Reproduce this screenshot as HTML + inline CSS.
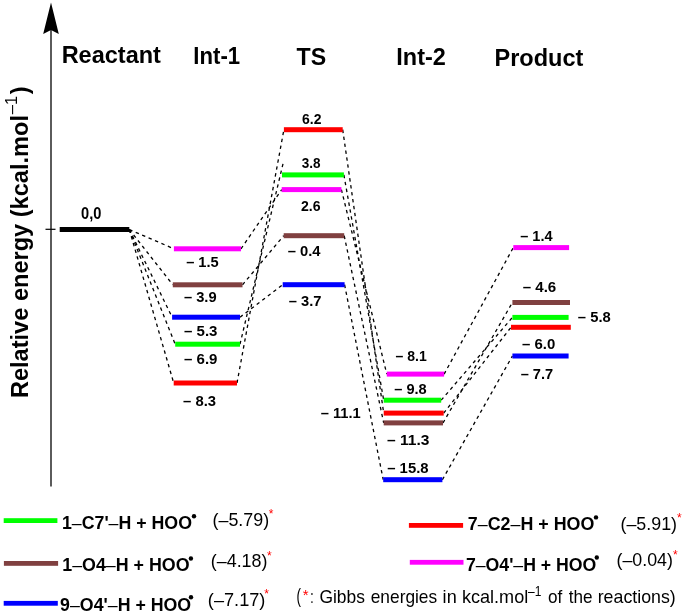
<!DOCTYPE html>
<html><head><meta charset="utf-8"><style>
html,body{margin:0;padding:0;background:#fff;width:685px;height:615px;overflow:hidden}
svg{display:block;will-change:transform}
text{font-family:"Liberation Sans",sans-serif}
</style></head><body>
<svg width="685" height="615" viewBox="0 0 685 615">
<rect width="685" height="615" fill="#fff"/>
<line x1="51" y1="28" x2="51" y2="486.5" stroke="#4a4a4a" stroke-width="1.8"/>
<path d="M51 2.6 L58.8 34 L51 30 L43.2 34 Z" fill="#000"/>
<line x1="45.5" y1="229.3" x2="55.5" y2="229.3" stroke="#000" stroke-width="1.2"/>
<line x1="129.3" y1="229.5" x2="173.9" y2="248.8" stroke="#000" stroke-width="1.3" stroke-dasharray="3.4 3.6"/>
<line x1="241" y1="248.8" x2="281.7" y2="189.6" stroke="#000" stroke-width="1.3" stroke-dasharray="3.4 3.6"/>
<line x1="341.4" y1="189.6" x2="386.8" y2="374.1" stroke="#000" stroke-width="1.3" stroke-dasharray="3.4 3.6"/>
<line x1="444.1" y1="374.1" x2="513.3" y2="247.6" stroke="#000" stroke-width="1.3" stroke-dasharray="3.4 3.6"/>
<line x1="129.3" y1="229.5" x2="172.8" y2="284.8" stroke="#000" stroke-width="1.3" stroke-dasharray="3.4 3.6"/>
<line x1="242.5" y1="284.8" x2="283.7" y2="235.7" stroke="#000" stroke-width="1.3" stroke-dasharray="3.4 3.6"/>
<line x1="344.2" y1="235.7" x2="383.7" y2="422.9" stroke="#000" stroke-width="1.3" stroke-dasharray="3.4 3.6"/>
<line x1="443" y1="422.9" x2="512.4" y2="302.5" stroke="#000" stroke-width="1.3" stroke-dasharray="3.4 3.6"/>
<line x1="129.3" y1="229.5" x2="172.1" y2="317.2" stroke="#000" stroke-width="1.3" stroke-dasharray="3.4 3.6"/>
<line x1="240" y1="317.2" x2="282.7" y2="284.7" stroke="#000" stroke-width="1.3" stroke-dasharray="3.4 3.6"/>
<line x1="344.6" y1="284.7" x2="383.2" y2="479.7" stroke="#000" stroke-width="1.3" stroke-dasharray="3.4 3.6"/>
<line x1="442.4" y1="479.7" x2="512.4" y2="356" stroke="#000" stroke-width="1.3" stroke-dasharray="3.4 3.6"/>
<line x1="129.3" y1="229.5" x2="175.2" y2="344.2" stroke="#000" stroke-width="1.3" stroke-dasharray="3.4 3.6"/>
<line x1="240" y1="344.2" x2="283.0" y2="163.8" stroke="#000" stroke-width="1.3" stroke-dasharray="3.4 3.6"/>
<line x1="343.9" y1="174.9" x2="383.7" y2="400.2" stroke="#000" stroke-width="1.3" stroke-dasharray="3.4 3.6"/>
<line x1="441.2" y1="400.2" x2="512.4" y2="317.4" stroke="#000" stroke-width="1.3" stroke-dasharray="3.4 3.6"/>
<line x1="129.3" y1="229.5" x2="173.7" y2="383" stroke="#000" stroke-width="1.3" stroke-dasharray="3.4 3.6"/>
<line x1="237" y1="383" x2="283.9" y2="129.7" stroke="#000" stroke-width="1.3" stroke-dasharray="3.4 3.6"/>
<line x1="342.7" y1="129.7" x2="383.7" y2="413.1" stroke="#000" stroke-width="1.3" stroke-dasharray="3.4 3.6"/>
<line x1="443.7" y1="413.1" x2="511" y2="327.3" stroke="#000" stroke-width="1.3" stroke-dasharray="3.4 3.6"/>
<rect x="59.7" y="227.0" width="69.60000000000001" height="5" fill="#000"/>
<rect x="173.9" y="246.3" width="67.1" height="5" fill="#ff00ff"/>
<rect x="172.8" y="282.3" width="69.69999999999999" height="5" fill="#804040"/>
<rect x="172.1" y="314.7" width="67.9" height="5" fill="#0000ff"/>
<rect x="175.2" y="341.7" width="64.80000000000001" height="5" fill="#00ff00"/>
<rect x="173.7" y="380.5" width="63.30000000000001" height="5" fill="#ff0000"/>
<rect x="283.9" y="127.19999999999999" width="58.80000000000001" height="5" fill="#ff0000"/>
<rect x="282" y="172.4" width="61.89999999999998" height="5" fill="#00ff00"/>
<rect x="281.7" y="187.1" width="59.69999999999999" height="5" fill="#ff00ff"/>
<rect x="283.7" y="233.2" width="60.5" height="5" fill="#804040"/>
<rect x="282.7" y="282.2" width="61.900000000000034" height="5" fill="#0000ff"/>
<rect x="386.8" y="371.6" width="57.30000000000001" height="5" fill="#ff00ff"/>
<rect x="383.7" y="397.7" width="57.5" height="5" fill="#00ff00"/>
<rect x="383.7" y="410.6" width="60.0" height="5" fill="#ff0000"/>
<rect x="383.7" y="420.4" width="59.30000000000001" height="5" fill="#804040"/>
<rect x="383.2" y="477.2" width="59.19999999999999" height="5" fill="#0000ff"/>
<rect x="513.3" y="245.1" width="55.80000000000007" height="5" fill="#ff00ff"/>
<rect x="512.4" y="300.0" width="57.60000000000002" height="5" fill="#804040"/>
<rect x="512.4" y="314.9" width="56.200000000000045" height="5" fill="#00ff00"/>
<rect x="511" y="324.8" width="59.799999999999955" height="5" fill="#ff0000"/>
<rect x="512.4" y="353.5" width="56.200000000000045" height="5" fill="#0000ff"/>
<text x="61.63" y="62.69" font-size="24.10" font-weight="bold" textLength="99.31" lengthAdjust="spacingAndGlyphs">Reactant</text>
<text x="193.37" y="64.17" font-size="24.10" font-weight="bold" textLength="46.74" lengthAdjust="spacingAndGlyphs">Int-1</text>
<text x="296.52" y="64.50" font-size="24.10" font-weight="bold" textLength="29.58" lengthAdjust="spacingAndGlyphs">TS</text>
<text x="396.31" y="64.50" font-size="24.10" font-weight="bold" textLength="49.52" lengthAdjust="spacingAndGlyphs">Int-2</text>
<text x="494.47" y="66.22" font-size="24.10" font-weight="bold" textLength="88.91" lengthAdjust="spacingAndGlyphs">Product</text>
<text x="81.03" y="218.60" font-size="15.60" font-weight="bold" textLength="20.36" lengthAdjust="spacingAndGlyphs">0,0</text>
<text x="186.14" y="267.03" font-size="15.40" font-weight="bold" textLength="32.58" lengthAdjust="spacingAndGlyphs">– 1.5</text>
<text x="183.94" y="302.36" font-size="15.40" font-weight="bold" textLength="32.68" lengthAdjust="spacingAndGlyphs">– 3.9</text>
<text x="184.00" y="335.64" font-size="15.40" font-weight="bold" textLength="33.50" lengthAdjust="spacingAndGlyphs">– 5.3</text>
<text x="184.03" y="364.37" font-size="15.40" font-weight="bold" textLength="33.44" lengthAdjust="spacingAndGlyphs">– 6.9</text>
<text x="183.00" y="406.32" font-size="15.40" font-weight="bold" textLength="33.01" lengthAdjust="spacingAndGlyphs">– 8.3</text>
<text x="302.00" y="124.04" font-size="15.40" font-weight="bold" textLength="19.40" lengthAdjust="spacingAndGlyphs">6.2</text>
<text x="301.71" y="168.04" font-size="15.40" font-weight="bold" textLength="18.82" lengthAdjust="spacingAndGlyphs">3.8</text>
<text x="300.97" y="211.36" font-size="15.40" font-weight="bold" textLength="19.56" lengthAdjust="spacingAndGlyphs">2.6</text>
<text x="287.71" y="256.36" font-size="15.40" font-weight="bold" textLength="32.82" lengthAdjust="spacingAndGlyphs">– 0.4</text>
<text x="288.82" y="306.06" font-size="15.40" font-weight="bold" textLength="32.68" lengthAdjust="spacingAndGlyphs">– 3.7</text>
<text x="395.48" y="360.67" font-size="15.40" font-weight="bold" textLength="31.24" lengthAdjust="spacingAndGlyphs">– 8.1</text>
<text x="394.26" y="393.96" font-size="15.40" font-weight="bold" textLength="32.49" lengthAdjust="spacingAndGlyphs">– 9.8</text>
<text x="320.65" y="418.12" font-size="15.40" font-weight="bold" textLength="40.05" lengthAdjust="spacingAndGlyphs">– 11.1</text>
<text x="387.10" y="444.92" font-size="15.40" font-weight="bold" textLength="42.41" lengthAdjust="spacingAndGlyphs">– 11.3</text>
<text x="387.22" y="473.44" font-size="15.40" font-weight="bold" textLength="41.36" lengthAdjust="spacingAndGlyphs">– 15.8</text>
<text x="520.22" y="240.64" font-size="15.40" font-weight="bold" textLength="32.32" lengthAdjust="spacingAndGlyphs">– 1.4</text>
<text x="522.70" y="292.03" font-size="15.40" font-weight="bold" textLength="33.57" lengthAdjust="spacingAndGlyphs">– 4.6</text>
<text x="577.87" y="321.67" font-size="15.40" font-weight="bold" textLength="32.88" lengthAdjust="spacingAndGlyphs">– 5.8</text>
<text x="522.00" y="349.37" font-size="15.40" font-weight="bold" textLength="33.27" lengthAdjust="spacingAndGlyphs">– 6.0</text>
<text x="520.66" y="378.81" font-size="15.40" font-weight="bold" textLength="32.42" lengthAdjust="spacingAndGlyphs">– 7.7</text>
<text x="61.93" y="528.60" font-size="17.90" font-weight="bold" textLength="130.07" lengthAdjust="spacingAndGlyphs">1<tspan font-weight="normal">–</tspan>C7'<tspan font-weight="normal">–</tspan>H + HOO</text>
<text x="62.25" y="571.34" font-size="17.90" font-weight="bold" textLength="127.30" lengthAdjust="spacingAndGlyphs">1<tspan font-weight="normal">–</tspan>O4<tspan font-weight="normal">–</tspan>H + HOO</text>
<text x="60.09" y="611.14" font-size="17.90" font-weight="bold" textLength="131.06" lengthAdjust="spacingAndGlyphs">9<tspan font-weight="normal">–</tspan>O4'<tspan font-weight="normal">–</tspan>H + HOO</text>
<text x="467.83" y="530.22" font-size="17.90" font-weight="bold" textLength="126.48" lengthAdjust="spacingAndGlyphs">7<tspan font-weight="normal">–</tspan>C2<tspan font-weight="normal">–</tspan>H + HOO</text>
<text x="465.89" y="570.71" font-size="17.90" font-weight="bold" textLength="130.48" lengthAdjust="spacingAndGlyphs">7<tspan font-weight="normal">–</tspan>O4'<tspan font-weight="normal">–</tspan>H + HOO</text>
<text x="212.52" y="525.61" font-size="18.20" font-weight="normal" textLength="56.64" lengthAdjust="spacingAndGlyphs">(–5.79)</text>
<text x="210.77" y="567.03" font-size="18.20" font-weight="normal" textLength="56.71" lengthAdjust="spacingAndGlyphs">(–4.18)</text>
<text x="207.84" y="605.76" font-size="18.20" font-weight="normal" textLength="57.57" lengthAdjust="spacingAndGlyphs">(–7.17)</text>
<text x="620.45" y="529.94" font-size="18.20" font-weight="normal" textLength="56.60" lengthAdjust="spacingAndGlyphs">(–5.91)</text>
<text x="616.44" y="566.49" font-size="18.20" font-weight="normal" textLength="56.52" lengthAdjust="spacingAndGlyphs">(–0.04)</text>
<text x="296.49" y="603.35" font-size="19.50" font-weight="normal" textLength="4.46" lengthAdjust="spacingAndGlyphs">(</text>
<text x="310.19" y="602.90" font-size="17.80" font-weight="normal" textLength="3.39" lengthAdjust="spacingAndGlyphs">:</text>
<text x="319.46" y="602.90" font-size="17.80" font-weight="normal" textLength="45.49" lengthAdjust="spacingAndGlyphs">Gibbs</text>
<text x="370.74" y="602.90" font-size="17.80" font-weight="normal" textLength="66.44" lengthAdjust="spacingAndGlyphs">energies</text>
<text x="442.63" y="602.90" font-size="17.80" font-weight="normal" textLength="14.09" lengthAdjust="spacingAndGlyphs">in</text>
<text x="461.93" y="602.90" font-size="17.80" font-weight="normal" textLength="66.33" lengthAdjust="spacingAndGlyphs">kcal.mol</text>
<text x="528.00" y="595.60" font-size="14.00" font-weight="normal" textLength="13.33" lengthAdjust="spacingAndGlyphs">–1</text>
<text x="548.00" y="602.90" font-size="17.80" font-weight="normal" textLength="14.30" lengthAdjust="spacingAndGlyphs">of</text>
<text x="568.68" y="602.90" font-size="17.80" font-weight="normal" textLength="23.78" lengthAdjust="spacingAndGlyphs">the</text>
<text x="597.71" y="602.90" font-size="17.80" font-weight="normal" textLength="78.00" lengthAdjust="spacingAndGlyphs">reactions)</text>
<text transform="translate(27.7,398.1) rotate(-90)" font-size="23.58" font-weight="bold">Relative energy (kcal.mol<tspan font-size="16.5" font-weight="normal" dx="0.9" dy="-10.5">–1</tspan><tspan dx="1.5" dy="10.5">)</tspan></text>
<rect x="3.7" y="518.2" width="53.699999999999996" height="4.8" fill="#00ff00"/>
<circle cx="194" cy="516.3" r="2.2" fill="#000"/>
<text x="268.7" y="517.95" font-size="12" font-weight="normal" fill="#ff0000" >*</text>
<rect x="3.9" y="561.0" width="54.2" height="4.8" fill="#804040"/>
<circle cx="190.9" cy="558.5" r="2.2" fill="#000"/>
<text x="266.9" y="559.6500000000001" font-size="12" font-weight="normal" fill="#ff0000" >*</text>
<rect x="3.7" y="600.9" width="54.099999999999994" height="4.8" fill="#0000ff"/>
<circle cx="191" cy="597.2" r="2.2" fill="#000"/>
<text x="264.29999999999995" y="598.45" font-size="12" font-weight="normal" fill="#ff0000" >*</text>
<rect x="408.9" y="523.0" width="54.200000000000045" height="4.8" fill="#ff0000"/>
<circle cx="596" cy="517.4" r="2.2" fill="#000"/>
<text x="676.9" y="522.1500000000001" font-size="12" font-weight="normal" fill="#ff0000" >*</text>
<rect x="409.8" y="559.9" width="53.69999999999999" height="4.8" fill="#ff00ff"/>
<circle cx="596.8" cy="557.5" r="2.2" fill="#000"/>
<text x="672.9" y="559.0500000000001" font-size="12" font-weight="normal" fill="#ff0000" >*</text>
<text x="302.65" y="600.0" font-size="15" font-weight="normal" fill="#ff0000" >*</text>
</svg>
</body></html>
